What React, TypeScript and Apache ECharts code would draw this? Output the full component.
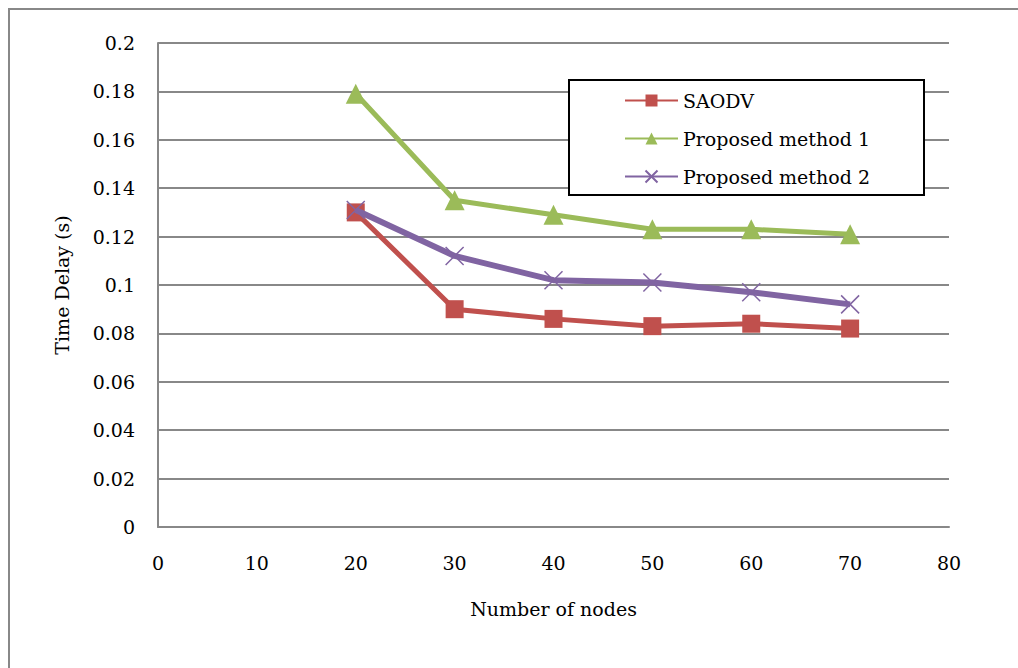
import React, { useEffect, useRef } from "react";
import * as echarts from "echarts";

const nodes = [20, 30, 40, 50, 60, 70];
const saodv = [0.13, 0.09, 0.086, 0.083, 0.084, 0.082];
const method1 = [0.179, 0.135, 0.129, 0.123, 0.123, 0.121];
const method2 = [0.131, 0.112, 0.102, 0.101, 0.097, 0.092];
const seriesNames = ["SAODV", "Proposed method 1", "Proposed method 2"];

const FONT = "DejaVu Serif";
const FS = 19;

export default function App() {
  const ref = useRef<HTMLDivElement>(null);
  useEffect(() => {
    if (!ref.current) return;
    const chart = echarts.init(ref.current, null, { renderer: "svg" });
    const pair = (vals: number[]) => nodes.map((n, i) => [n, vals[i]]);
    chart.setOption({
      animation: false,
      backgroundColor: "#fff",
      grid: { left: 158, top: 43, right: 69, bottom: 141 },
      legend: {
        orient: "vertical",
        left: 624,
        top: 91,
        itemWidth: 53,
        itemHeight: 15,
        itemGap: 19,
        padding: 0,
        textStyle: { fontFamily: FONT, fontSize: FS, color: "#000" },
        data: seriesNames,
      },
      xAxis: {
        type: "value",
        min: 0,
        max: 80,
        interval: 10,
        name: "Number of nodes",
        nameLocation: "middle",
        nameGap: 72,
        nameTextStyle: { fontFamily: FONT, fontSize: FS, color: "#000" },
        axisLine: { show: true, lineStyle: { color: "#888", width: 2 } },
        axisTick: { show: false },
        splitLine: { show: false },
        axisLabel: { fontFamily: FONT, fontSize: FS, color: "#000", margin: 26 },
      },
      yAxis: {
        type: "value",
        min: 0,
        max: 0.2,
        interval: 0.02,
        name: "Time Delay (s)",
        nameLocation: "middle",
        nameGap: 87,
        nameTextStyle: { fontFamily: FONT, fontSize: FS, color: "#000" },
        axisLine: { show: true, lineStyle: { color: "#888", width: 2 } },
        axisTick: { show: false },
        splitLine: { show: true, lineStyle: { color: "#888", width: 2 } },
        axisLabel: { fontFamily: FONT, fontSize: FS, color: "#000", margin: 23 },
      },
      graphic: [
        {
          type: "rect",
          shape: { x: 9, y: 9, width: 1030, height: 680 },
          style: { fill: "none", stroke: "#888", lineWidth: 2 },
          z: 100,
        },
        {
          type: "rect",
          shape: { x: 569, y: 80, width: 355, height: 115 },
          style: { fill: "#fff", stroke: "#000", lineWidth: 2 },
          z: 1,
        },
      ],
      series: [
        {
          name: seriesNames[0],
          type: "line",
          data: pair(saodv),
          symbol: "rect",
          symbolSize: 18,
          lineStyle: { color: "#c0504d", width: 5 },
          itemStyle: { color: "#c0504d" },
          z: 3,
        },
        {
          name: seriesNames[1],
          type: "line",
          data: pair(method1),
          symbol: "triangle",
          symbolSize: 20,
          lineStyle: { color: "#9bbb59", width: 5 },
          itemStyle: { color: "#9bbb59" },
          z: 3,
        },
        {
          name: seriesNames[2],
          type: "line",
          data: pair(method2),
          symbol: "path://M0,0 L10,10 M10,0 L0,10",
          symbolSize: 18,
          lineStyle: { color: "#8064a2", width: 6 },
          itemStyle: { color: "#8064a2", borderColor: "#8064a2", borderWidth: 1.5 },
          z: 4,
        },
      ],
    });
    return () => chart.dispose();
  }, []);
  return (
    <div
      ref={ref}
      style={{ position: "fixed", left: 0, top: 0, width: 1018, height: 668 }}
    />
  );
}
